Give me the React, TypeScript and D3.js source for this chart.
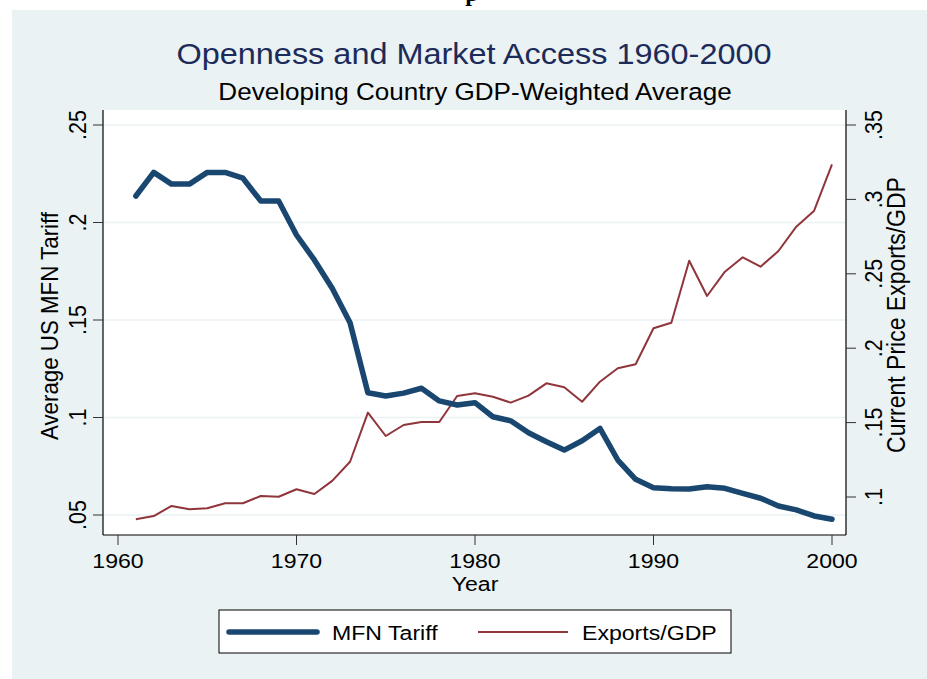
import React from "react";
import * as d3 from "d3";

// values
const years = d3.range(1961, 2001);
const mfnTariff = [
  0.2136, 0.2257, 0.2197, 0.2197, 0.2257, 0.2257, 0.2227, 0.211, 0.211, 0.1936,
  0.1808, 0.1663, 0.1486, 0.1127, 0.111, 0.1125, 0.115, 0.1085, 0.1064, 0.1076,
  0.1004, 0.0983, 0.0922, 0.0876, 0.0833, 0.0881, 0.0944, 0.0782, 0.0683, 0.064,
  0.0635, 0.0633, 0.0645, 0.0637, 0.0611, 0.0586, 0.0546, 0.0526, 0.0495, 0.0478,
];
const exportsGdp = [
  0.085, 0.0872, 0.094, 0.0917, 0.0924, 0.0958, 0.0958, 0.1007, 0.1002, 0.1052,
  0.102, 0.1108, 0.1237, 0.1567, 0.141, 0.1484, 0.1504, 0.1504, 0.1679, 0.1697,
  0.1674, 0.1634, 0.1681, 0.1764, 0.1737, 0.164, 0.1775, 0.1865, 0.1892, 0.2134,
  0.2171, 0.2588, 0.2351, 0.2514, 0.2611, 0.2548, 0.2653, 0.2817, 0.2924, 0.3236,
];
const xTicks = [1960, 1970, 1980, 1990, 2000];
const leftTicks = [0.05, 0.1, 0.15, 0.2, 0.25];
const rightTicks = [0.1, 0.15, 0.2, 0.25, 0.3, 0.35];

const W = 927;
const H = 679;
const plot = { left: 103, right: 846, top: 110, bottom: 535 };
const FONT = "'Liberation Sans', Arial, sans-serif";
const NAVY = "#1a476f";
const MAROON = "#90353b";
const BG = "#eaf2f3";
const SX = 1.1; // the reference text is stretched a little sideways

const fmt = (v: number) => String(+v.toFixed(2)).replace(/^0/, "");

export default function App() {
  const x = d3.scaleLinear().domain([1960, 2000]).range([118, 832]);
  const yL = d3.scaleLinear().domain([0.05, 0.25]).range([515, 125]);
  const yR = d3.scaleLinear().domain([0.1, 0.35]).range([497, 125]);

  const mfnLine = d3
    .line<number>()
    .x((_, i) => x(years[i]))
    .y((d) => yL(d));
  const expLine = d3
    .line<number>()
    .x((_, i) => x(years[i]))
    .y((d) => yR(d));

  const hText = (tx: number, ty: number) => `translate(${tx},${ty}) scale(${SX},1)`;
  const vText = (tx: number, ty: number) =>
    `translate(${tx},${ty}) scale(${SX},1) rotate(-90)`;

  return (
    <svg
      width={W}
      height={H}
      style={{ position: "absolute", left: 0, top: 0, display: "block" }}
      fontFamily={FONT}
    >
      <rect width={W} height={H} fill="#ffffff" />
      {/* bit of the page heading cut off above the figure */}
      <text
        x={472}
        y={1}
        textAnchor="middle"
        fontFamily="'Liberation Serif', serif"
        fontWeight="bold"
        fontSize={24}
        fill="#000"
      >
        p
      </text>
      <rect x={12} y={10} width={W - 12} height={H - 10} fill={BG} />

      {/* plot region */}
      <rect
        x={plot.left}
        y={plot.top}
        width={plot.right - plot.left}
        height={plot.bottom - plot.top}
        fill="#ffffff"
      />
      {leftTicks.map((t) => (
        <line
          key={"g" + t}
          x1={plot.left}
          x2={plot.right}
          y1={yL(t)}
          y2={yL(t)}
          stroke={BG}
          strokeWidth={1.6}
        />
      ))}

      {/* titles */}
      <text
        transform={hText(474, 64)}
        textAnchor="middle"
        fontSize={29.5}
        fill="#1c2b5a"
      >
        Openness and Market Access 1960-2000
      </text>
      <text transform={hText(475, 100)} textAnchor="middle" fontSize={23.7} fill="#000">
        Developing Country GDP-Weighted Average
      </text>

      {/* series */}
      <path
        d={expLine(exportsGdp) || ""}
        fill="none"
        stroke={MAROON}
        strokeWidth={2}
        strokeLinejoin="round"
      />
      <path
        d={mfnLine(mfnTariff) || ""}
        fill="none"
        stroke={NAVY}
        strokeWidth={5.5}
        strokeLinejoin="round"
        strokeLinecap="round"
      />

      {/* axes */}
      <line x1={plot.left} x2={plot.left} y1={plot.top} y2={plot.bottom} stroke="#000" strokeWidth={1.2} />
      <line x1={plot.right} x2={plot.right} y1={plot.top} y2={plot.bottom} stroke="#000" strokeWidth={1.2} />
      <line x1={plot.left} x2={plot.right} y1={plot.bottom} y2={plot.bottom} stroke="#000" strokeWidth={1.2} />

      {leftTicks.map((t) => (
        <g key={"l" + t}>
          <line x1={plot.left - 10} x2={plot.left} y1={yL(t)} y2={yL(t)} stroke="#333" strokeWidth={1} />
          <text transform={vText(86, yL(t))} textAnchor="middle" fontSize={21.5} fill="#000">
            {fmt(t)}
          </text>
        </g>
      ))}
      {rightTicks.map((t) => (
        <g key={"r" + t}>
          <line x1={plot.right} x2={plot.right + 10} y1={yR(t)} y2={yR(t)} stroke="#333" strokeWidth={1} />
          <text transform={vText(882, yR(t))} textAnchor="middle" fontSize={21.5} fill="#000">
            {fmt(t)}
          </text>
        </g>
      ))}
      {xTicks.map((t) => (
        <g key={"x" + t}>
          <line x1={x(t)} x2={x(t)} y1={plot.bottom} y2={plot.bottom + 10} stroke="#333" strokeWidth={1} />
          <text transform={hText(x(t), 568)} textAnchor="middle" fontSize={21} fill="#000">
            {t}
          </text>
        </g>
      ))}

      <text transform={vText(58, 326)} textAnchor="middle" fontSize={22.3} fill="#000">
        Average US MFN Tariff
      </text>
      <text transform={vText(905, 315)} textAnchor="middle" fontSize={23} fill="#000">
        Current Price Exports/GDP
      </text>
      <text transform={hText(475, 591)} textAnchor="middle" fontSize={21} fill="#000">
        Year
      </text>

      {/* legend */}
      <rect x={219} y={610} width={512} height={43} fill="#ffffff" stroke="#000" strokeWidth={1} />
      <line x1={229} x2={317} y1={632} y2={632} stroke={NAVY} strokeWidth={5.5} strokeLinecap="round" />
      <text transform={hText(332, 640)} fontSize={21} fill="#000">
        MFN Tariff
      </text>
      <line x1={478} x2={568} y1={632} y2={632} stroke={MAROON} strokeWidth={2} />
      <text transform={hText(582, 640)} fontSize={21} fill="#000">
        Exports/GDP
      </text>
    </svg>
  );
}
